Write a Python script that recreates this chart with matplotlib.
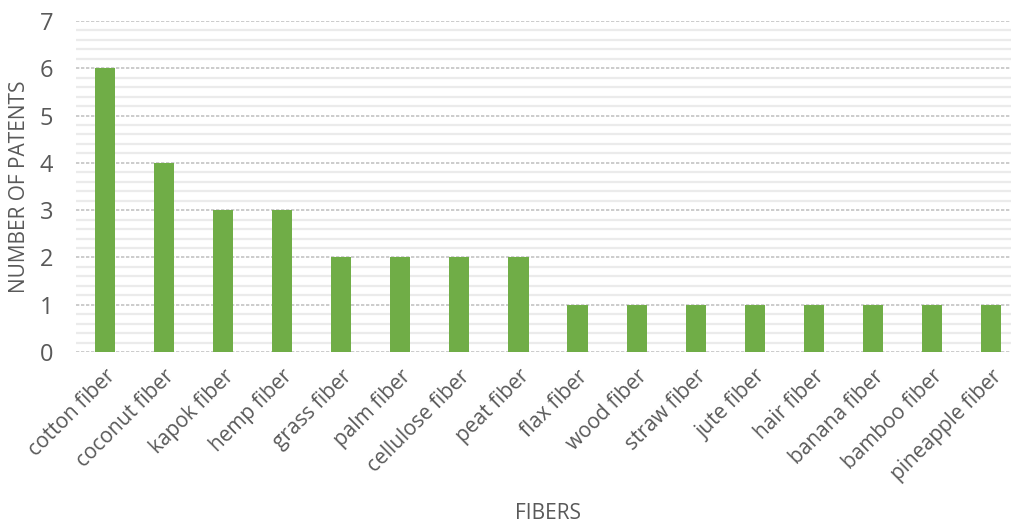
import matplotlib.pyplot as plt
import numpy as np
from matplotlib.ticker import MultipleLocator

fibers = ['cotton fiber', 'coconut fiber', 'kapok fiber', 'hemp fiber', 'grass fiber',
          'palm fiber', 'cellulose fiber', 'peat fiber', 'flax fiber', 'wood fiber',
          'straw fiber', 'jute fiber', 'hair fiber', 'banana fiber', 'bamboo fiber',
          'pineapple fiber']
patents = [6, 4, 3, 3, 2, 2, 2, 2, 1, 1, 1, 1, 1, 1, 1, 1]

plt.rcParams['font.family'] = ['Open Sans', 'DejaVu Sans']
grey = '#595959'

fig = plt.figure(figsize=(10.11, 5.26), dpi=100)
# axes runs slightly past the right border, as the gridlines do
ax = fig.add_axes([75.5/1011, 1-352/526, 945/1011, 331/526])

x = np.arange(len(fibers))
ax.bar(x, patents, width=0.34, color='#70AD47', zorder=3)

ax.set_xlim(-0.5, len(fibers) - 0.5)
ax.set_ylim(0, 7)
ax.yaxis.set_major_locator(MultipleLocator(1))
ax.yaxis.set_minor_locator(MultipleLocator(0.2))
ax.grid(axis='y', which='minor', color='#ebebeb', lw=1.6, zorder=0)
ax.grid(axis='y', which='major', color='#c4c4c4', lw=1.2, ls=(0, (2, 1)), zorder=1)
ax.set_axisbelow(True)

for s in ax.spines.values():
    s.set_visible(False)
ax.tick_params(axis='both', which='both', length=0, colors=grey)
ax.tick_params(axis='y', pad=16, labelsize=17)
ax.set_xticks(x)
ax.set_xticklabels(fibers, rotation=45, ha='right', rotation_mode='anchor', fontsize=15)
ax.tick_params(axis='x', pad=10)

ax.set_ylabel('NUMBER OF PATENTS', color=grey, fontsize=15)
ax.yaxis.set_label_coords(-45/945, 0.5)
ax.set_xlabel('FIBERS', color=grey, fontsize=15)
ax.xaxis.set_label_coords(0.5, -151/331)

fig.savefig('out.png', dpi=100)
